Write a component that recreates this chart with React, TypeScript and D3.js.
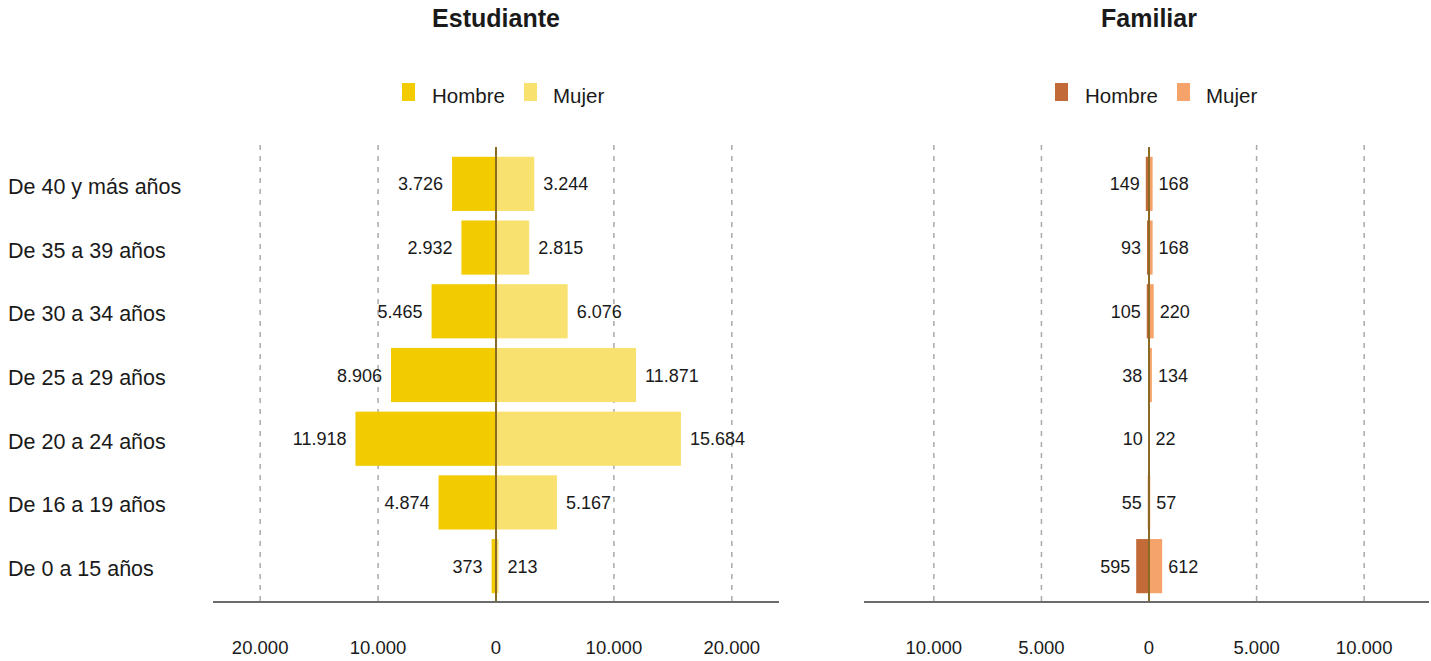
import * as d3 from 'd3';

const categories = [
  'De 40 y más años',
  'De 35 a 39 años',
  'De 30 a 34 años',
  'De 25 a 29 años',
  'De 20 a 24 años',
  'De 16 a 19 años',
  'De 0 a 15 años'
];

const estudianteHombre = [3726, 2932, 5465, 8906, 11918, 4874, 373];
const estudianteMujer = [3244, 2815, 6076, 11871, 15684, 5167, 213];
const familiarHombre = [149, 93, 105, 38, 10, 55, 595];
const familiarMujer = [168, 168, 220, 134, 22, 57, 612];

const estudianteTicks = [-20000, -10000, 0, 10000, 20000];
const familiarTicks = [-10000, -5000, 0, 5000, 10000];

const locale = d3.formatLocale({ decimal: ',', thousands: '.', grouping: [3], currency: ['', ''] });
const fmt = locale.format(',d');

const W = 1431;
const H = 661;
const FONT = 'Arial, "Liberation Sans", sans-serif';

interface PanelProps {
  title: string;
  x0: number;
  x1: number;
  axisX0: number;
  axisX1: number;
  max: number;
  hombre: number[];
  mujer: number[];
  ticks: number[];
  colorH: string;
  colorM: string;
  labelGap: number;
}

const y = d3.scaleBand<string>()
  .domain(categories)
  .range([152, 598])
  .paddingInner(0.15)
  .paddingOuter(0.075);

function Panel({ title, x0, x1, axisX0, axisX1, max, hombre, mujer, ticks, colorH, colorM, labelGap }: PanelProps) {
  const x = d3.scaleLinear().domain([-max, max]).range([x0, x1]);
  const cx = x(0);
  const bh = y.bandwidth();

  return (
    <g>
      <text x={cx} y={27} textAnchor="middle" fontSize={25} fontWeight="bold" fill="#1a1a1a">{title}</text>

      {/* legend */}
      <rect x={cx - 94} y={83} width={13} height={18} fill={colorH} />
      <text x={cx - 64} y={103} fontSize={20.5} fill="#1a1a1a">Hombre</text>
      <rect x={cx + 28} y={83} width={13} height={18} fill={colorM} />
      <text x={cx + 57} y={103} fontSize={20.5} fill="#1a1a1a">Mujer</text>

      {/* grid */}
      {ticks.filter(t => t !== 0).map(t => (
        <line key={t} x1={x(t)} x2={x(t)} y1={145} y2={602} stroke="#aaaaaa" strokeWidth={1.5} strokeDasharray="5,6" />
      ))}

      {categories.map((c, i) => {
        const yy = y(c)!;
        const yc = yy + bh / 2;
        return (
          <g key={c}>
            <rect x={x(-hombre[i])} y={yy} width={cx - x(-hombre[i])} height={bh} fill={colorH} />
            <rect x={cx} y={yy} width={x(mujer[i]) - cx} height={bh} fill={colorM} />
            <text x={x(-hombre[i]) - labelGap} y={yc + 6.5} textAnchor="end" fontSize={18} fill="#1a1a1a">{fmt(hombre[i])}</text>
            <text x={x(mujer[i]) + labelGap} y={yc + 6.5} fontSize={18} fill="#1a1a1a">{fmt(mujer[i])}</text>
          </g>
        );
      })}

      {/* center line */}
      <line x1={cx} x2={cx} y1={147} y2={602} stroke="#8b6a25" strokeWidth={2} />

      {/* axis */}
      <line x1={axisX0} x2={axisX1} y1={602} y2={602} stroke="#6b6b6b" strokeWidth={2} />
      {ticks.map(t => (
        <text key={t} x={x(t)} y={654} textAnchor="middle" fontSize={18.5} fill="#1a1a1a">{fmt(Math.abs(t))}</text>
      ))}
    </g>
  );
}

export default function App() {
  return (
    <svg width={W} height={H} style={{ position: 'absolute', left: 0, top: 0, fontFamily: FONT, background: '#fff' }}>
      {categories.map(c => (
        <text key={c} x={8} y={y(c)! + y.bandwidth() / 2 + 10} fontSize={21.5} fill="#1a1a1a">{c}</text>
      ))}
      <Panel
        title="Estudiante"
        x0={213}
        x1={779}
        axisX0={213}
        axisX1={779}
        max={24000}
        hombre={estudianteHombre}
        mujer={estudianteMujer}
        ticks={estudianteTicks}
        colorH="#f2cb00"
        colorM="#f8e16e"
        labelGap={9}
      />
      <Panel
        title="Familiar"
        x0={865}
        x1={1433}
        axisX0={864}
        axisX1={1429}
        max={13200}
        hombre={familiarHombre}
        mujer={familiarMujer}
        ticks={familiarTicks}
        colorH="#c26a38"
        colorM="#f5a36a"
        labelGap={6}
      />
    </svg>
  );
}
